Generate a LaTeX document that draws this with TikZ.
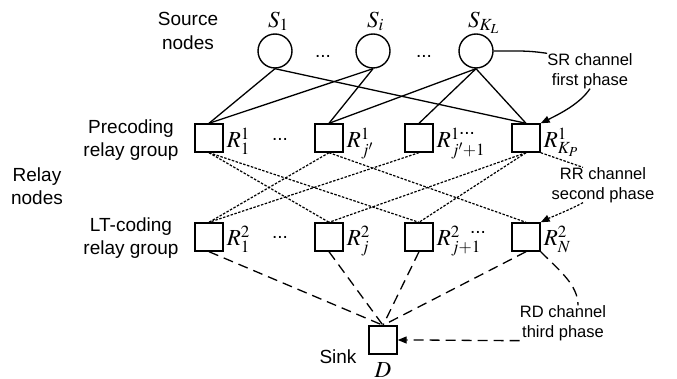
\documentclass[tikz,border=0pt]{standalone}
\usepackage{mathptmx}
\usepackage[no-math]{fontspec}
\setmainfont{Liberation Sans}
\usetikzlibrary{arrows.meta}

\tikzset{
    source/.style={circle, draw, line width=1.4pt, minimum size=34pt, inner sep=0pt},
    relay/.style={rectangle, draw, line width=1.4pt, minimum size=28pt, inner sep=0pt},
    group/.style={font=\fontsize{19}{23.5}\selectfont, align=center, inner sep=0pt},
    phase/.style={font=\fontsize{16.5}{19.5}\selectfont, align=center, inner sep=0pt},
    sym/.style={font=\fontsize{23}{24}\selectfont, inner sep=0pt},
    gap/.style={font=\fontsize{19}{20}\selectfont, inner sep=0pt},
    srlink/.style={line width=1.3pt},
    rrlink/.style={line width=1.2pt, dash pattern=on 2.5pt off 1.5pt},
    rdlink/.style={line width=1.3pt, dash pattern=on 10pt off 6pt},
    tip/.style={-{Triangle[length=9pt,width=7pt]}}
}

\begin{document}
\begin{tikzpicture}[x=1pt,y=-1pt]
    \useasboundingbox (0,0) rectangle (677,379);

    % Source nodes
    \node[source] (S1) at (275,51) {};
    \node[source] (Si) at (373,51) {};
    \node[source] (SKL) at (476,51) {};
    \node[sym, anchor=base west] at ([xshift=-7pt,yshift=6pt]S1.north) {$S_1$};
    \node[sym, anchor=base west] at ([xshift=-6pt,yshift=6pt]Si.north) {$S_i$};
    \node[sym, anchor=base west] at ([xshift=-8pt,yshift=6pt]SKL.north) {$S_{K_L}$};
    \node[gap] (dotsA) at (323,56) {...};
    \node[gap] (dotsB) at (424,56) {...};

    % Precoding relay group
    \node[relay] (R11) at (209,138) {};
    \node[relay] (R1j) at (329,138) {};
    \node[relay] (R1jj) at (419,138) {};
    \node[relay] (R1KP) at (526,138) {};
    \node[sym, anchor=base west] at ([xshift=3pt,yshift=-9.5pt]R11.east) {$R_1^1$};
    \node[sym, anchor=base west] at ([xshift=3pt,yshift=-9.5pt]R1j.east) {$R_{j'}^1$};
    \node[sym, anchor=base west] at ([xshift=3pt,yshift=-9.5pt]R1jj.east) {$R_{j'+1}^1$};
    \node[sym, anchor=base west] at ([xshift=3pt,yshift=-9.5pt]R1KP.east) {$R_{K_P}^1$};
    \node[gap] (dotsC) at (280,139) {...};
    \node[gap] (dotsD) at (467,133) {...};

    % LT-coding relay group
    \node[relay] (R21) at (209,237) {};
    \node[relay] (R2j) at (329,237) {};
    \node[relay] (R2jj) at (419,237) {};
    \node[relay] (R2N) at (526,237) {};
    \node[sym, anchor=base west] at ([xshift=3pt,yshift=-9pt]R21.east) {$R_1^2$};
    \node[sym, anchor=base west] at ([xshift=3pt,yshift=-9pt]R2j.east) {$R_j^2$};
    \node[sym, anchor=base west] at ([xshift=3pt,yshift=-9pt]R2jj.east) {$R_{j+1}^2$};
    \node[sym, anchor=base west] at ([xshift=3pt,yshift=-9pt]R2N.east) {$R_N^2$};
    \node[gap] (dotsE) at (280,237) {...};
    \node[gap] (dotsF) at (478,232) {...};

    % Sink
    \node[relay] (D) at (383,340) {};
    \node[sym, anchor=base] at ([yshift=-23pt]D.south) {$D$};

    % Side labels
    \node[group] (srclbl) at (188,31) {Source\\nodes};
    \node[group] (prelbl) at (131,140) {Precoding\\relay group};
    \node[group] (relaylbl) at (37,186) {Relay\\nodes};
    \node[group] (ltlbl) at (131,238) {LT-coding\\relay group};
    \node[group] (sinklbl) at (338,357) {Sink};

    % Phase labels
    \node[phase] (sr) at (590,71) {SR channel\\first phase};
    \node[phase] (rr) at (603,185) {RR channel\\second phase};
    \node[phase] (rd) at (563,323) {RD channel\\third phase};

    % SR links (first phase)
    \draw[srlink] (S1.south) -- (R11.north);
    \draw[srlink] (S1.south) -- (R1KP.north);
    \draw[srlink] (Si.south) -- (R11.north);
    \draw[srlink] (Si.south) -- (R1j.north);
    \draw[srlink] (SKL.south) -- (R1j.north);
    \draw[srlink] (SKL.south) -- (R1jj.north);
    \draw[srlink] (SKL.south) -- (R1KP.north);

    % RR links (second phase)
    \draw[rrlink] (R11.south) -- (R2j.north);
    \draw[rrlink] (R11.south) -- (R2jj.north);
    \draw[rrlink] (R1j.south) -- (R21.north);
    \draw[rrlink] (R1j.south) -- (R2N.north);
    \draw[rrlink] (R1jj.south) -- (R21.north);
    \draw[rrlink] (R1KP.south) -- (R2j.north);
    \draw[rrlink] (R1KP.south) -- (R2jj.north);

    % RD links (third phase)
    \draw[rdlink] (R21.south) -- (D.north);
    \draw[rdlink] (R2j.south) -- (D.north);
    \draw[rdlink] (R2jj.south) -- (D.north);
    \draw[rdlink] (R2N.south) -- (D.north);

    % Pointers to the phase labels
    \draw[srlink] (SKL.east) .. controls +(25,0) and +(-20,-3) .. (sr.north west);
    \draw[srlink, tip] (sr.south) .. controls +(-10,15) and +(20,-10) .. (R1KP.north east);
    \draw[rrlink] (R1KP.south east) -- ([xshift=-20pt]rr.north);
    \draw[rrlink, tip] ([xshift=-20pt]rr.south) .. controls +(-15,8) and +(10,-5) .. (R2N.north east);
    \draw[rdlink] (R2N.south east) .. controls +(20,20) and +(0,-20) .. ([xshift=15pt]rd.north);
    \draw[rdlink, tip] (rd.south west) .. controls +(-40,0) and +(40,0) .. (D.east);

\end{tikzpicture}
\end{document}
